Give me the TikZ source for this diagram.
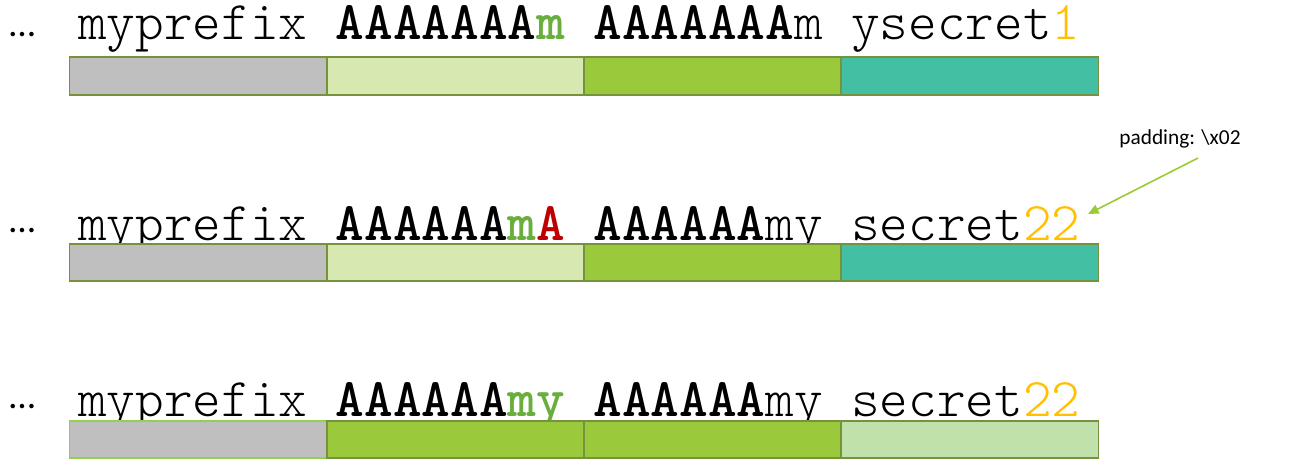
\documentclass[tikz,border=0pt]{standalone}
\usepackage{fontspec}
\setmainfont{Carlito}
\newfontfamily\monofont{lmmonolt10-regular.otf}[BoldFont=lmmonolt10-bold.otf]
\usetikzlibrary{arrows.meta}
\definecolor{cgray}{HTML}{BFBFBF}
\definecolor{clight}{HTML}{D7E9B1}
\definecolor{cgreen}{HTML}{9ACA3C}
\definecolor{cteal}{HTML}{43C0A3}
\definecolor{cpale}{HTML}{C0E1AA}
\definecolor{cborder}{HTML}{76923C}
\definecolor{cborderlight}{HTML}{92D050}
\definecolor{tgreen}{HTML}{6AAE3E}
\definecolor{tred}{HTML}{C00000}
\definecolor{tyellow}{HTML}{FFC000}
\definecolor{carrow}{HTML}{99CC33}
\newcommand{\Bg}[1]{\textbf{\textcolor{tgreen}{#1}}}
\newcommand{\Br}[1]{\textbf{\textcolor{tred}{#1}}}
\newcommand{\Yl}[1]{\textcolor{tyellow}{#1}}
\begin{document}
\begin{tikzpicture}[x=0.75pt,y=-0.75pt,
  cell/.style={draw=cborder,line width=1.3pt,minimum width=192.9pt,minimum height=28pt,inner sep=0pt,outer sep=0pt},
  mono/.style={anchor=base west,inner sep=0pt,font=\monofont\fontsize{40.9}{44}\selectfont},
  dots/.style={anchor=base west,inner sep=0pt,font=\fontsize{28}{30}\selectfont},
  lbl/.style={anchor=base,inner sep=0pt,font=\fontsize{16}{18}\selectfont},
  arr/.style={draw=carrow,line width=1.2pt,-{Triangle[length=8pt,width=7pt]}}]
\useasboundingbox (0,0) rectangle (1289,465);
% row 1
\node[dots] (d1) at (9,36) {\dots};
\node[mono] (t1) at (78,39) {myprefix \textbf{AAAAAAA}\Bg{m} \textbf{AAAAAAA}m ysecret\Yl{1}};
\node[cell,fill=cgray]  (r1a) at (198,76) {};
\node[cell,fill=clight] (r1b) at (455.5,76) {};
\node[cell,fill=cgreen] (r1c) at (712.5,76) {};
\node[cell,fill=cteal]  (r1d) at (970,76) {};
% row 2
\node[dots] (d2) at (9,232) {\dots};
\node[mono] (t2) at (78,240) {myprefix \textbf{AAAAAA}\Bg{m}\Br{A} \textbf{AAAAAA}my secret\Yl{22}};
\node[cell,fill=cgray]  (r2a) at (198,262.5) {};
\node[cell,fill=clight] (r2b) at (455.5,262.5) {};
\node[cell,fill=cgreen] (r2c) at (712.5,262.5) {};
\node[cell,fill=cteal]  (r2d) at (970,262.5) {};
% row 3
\node[dots] (d3) at (9,408) {\dots};
\node[mono] (t3) at (78,416) {myprefix \textbf{AAAAAA}\Bg{my} \textbf{AAAAAA}my secret\Yl{22}};
\node[cell,fill=cgray,draw=cborderlight] (r3a) at (198,439.5) {};
\node[cell,fill=cgreen] (r3b) at (455.5,439.5) {};
\node[cell,fill=cgreen] (r3c) at (712.5,439.5) {};
\node[cell,fill=cpale]  (r3d) at (970,439.5) {};
% padding label
\node[lbl] (pad) at (1180,144) {padding: \textbackslash x02};
\coordinate (padstart) at (1198,158);
\coordinate (padend) at (1088,214);
\draw[arr] (padstart) -- (padend);
\end{tikzpicture}
\end{document}
